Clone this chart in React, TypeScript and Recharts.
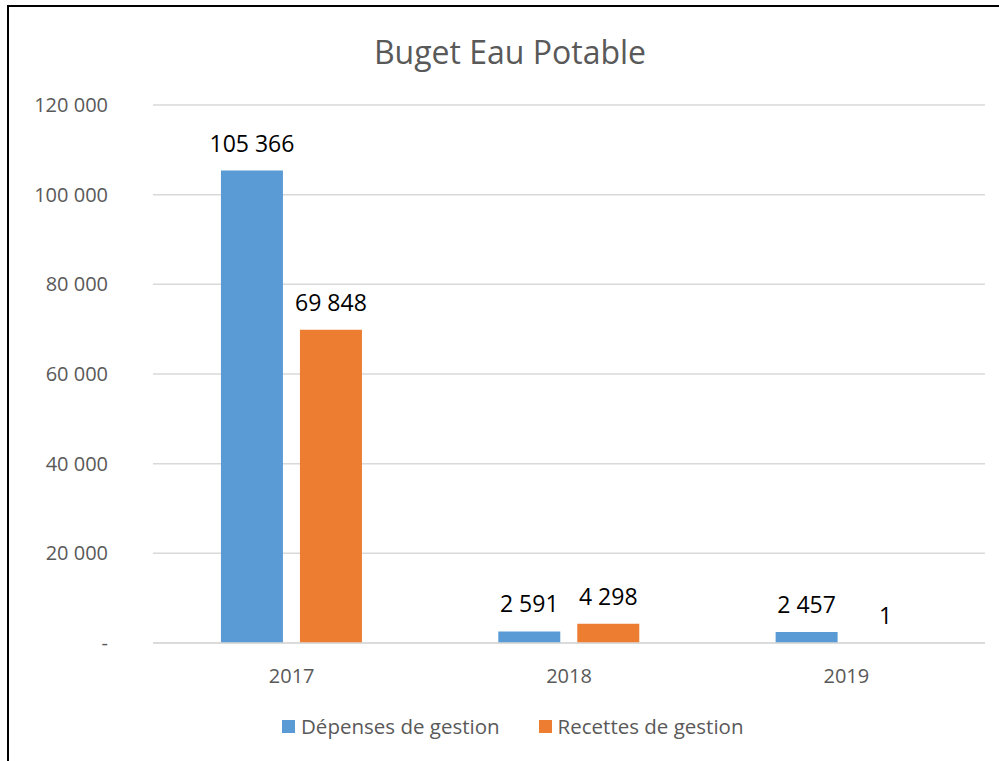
import { BarChart, Bar, XAxis, YAxis, CartesianGrid, LabelList } from "recharts";

const years = ["2017", "2018", "2019"];
const depenses = [105366, 2591, 2457];
const recettes = [69848, 4298, 1];
const yTicks = [0, 20000, 40000, 60000, 80000, 100000, 120000];

const BLUE = "#5B9BD5";
const ORANGE = "#ED7D31";
const GREY = "#595959";
const FONT = "'Open Sans', sans-serif";

const data = years.map((year, i) => ({
  year,
  depenses: depenses[i],
  recettes: recettes[i],
}));

const fmt = (v: number) => (v === 0 ? "-" : v.toLocaleString("fr-FR").replace(/\s/g, " "));

const legendItems = [
  { label: "Dépenses de gestion", color: BLUE },
  { label: "Recettes de gestion", color: ORANGE },
];

export default function App() {
  return (
    <div
      style={{
        position: "fixed",
        left: 0,
        top: 0,
        width: 999,
        height: 761,
        overflow: "hidden",
        background: "#fff",
        fontFamily: FONT,
      }}
    >
      <div
        style={{
          position: "absolute",
          left: 7,
          top: 5,
          right: -4,
          bottom: -4,
          borderLeft: "2px solid #000",
          borderTop: "2px solid #000",
        }}
      />
      <div
        style={{
          position: "absolute",
          left: 510,
          top: 28,
          transform: "translateX(-50%)",
          fontSize: 32,
          color: GREY,
          whiteSpace: "nowrap",
          lineHeight: "48px",
        }}
      >
        Buget Eau Potable
      </div>
      <div style={{ position: "absolute", left: 0, top: 0 }}>
        <BarChart
          width={999}
          height={761}
          data={data}
          margin={{ top: 105, right: 14, bottom: 0, left: 0 }}
          barGap={17}
          barCategoryGap="24.5%"
        >
          <CartesianGrid vertical={false} stroke="#d9d9d9" strokeWidth={1.5} />
          <XAxis
            dataKey="year"
            axisLine={{ stroke: "#d9d9d9", strokeWidth: 1.5 }}
            tickLine={false}
            tickMargin={20}
            height={118}
            tick={{ fill: GREY, fontSize: 20, fontFamily: FONT }}
          />
          <YAxis
            width={153}
            domain={[0, 120000]}
            ticks={yTicks}
            axisLine={false}
            tickLine={false}
            tickSize={0}
            tickMargin={45}
            tickFormatter={fmt}
            tick={{ fill: GREY, fontSize: 20, fontFamily: FONT }}
          />
          <Bar dataKey="depenses" fill={BLUE} isAnimationActive={false}>
            <LabelList
              dataKey="depenses"
              position="top"
              offset={19}
              formatter={fmt}
              style={{ fill: "#000", fontSize: 23, fontFamily: FONT }}
            />
          </Bar>
          <Bar dataKey="recettes" fill={ORANGE} isAnimationActive={false}>
            <LabelList
              dataKey="recettes"
              position="top"
              offset={19}
              formatter={fmt}
              style={{ fill: "#000", fontSize: 23, fontFamily: FONT }}
            />
          </Bar>
        </BarChart>
      </div>
      <div
        style={{
          position: "absolute",
          left: 282,
          top: 712,
          display: "flex",
          alignItems: "center",
          fontSize: 20.5,
          color: GREY,
          whiteSpace: "nowrap",
        }}
      >
        {legendItems.map((item, i) => (
          <div key={item.label} style={{ display: "flex", alignItems: "center", marginRight: i === 0 ? 39 : 0 }}>
            <div style={{ width: 13, height: 13, background: item.color, marginRight: 6 }} />
            <span>{item.label}</span>
          </div>
        ))}
      </div>
    </div>
  );
}
